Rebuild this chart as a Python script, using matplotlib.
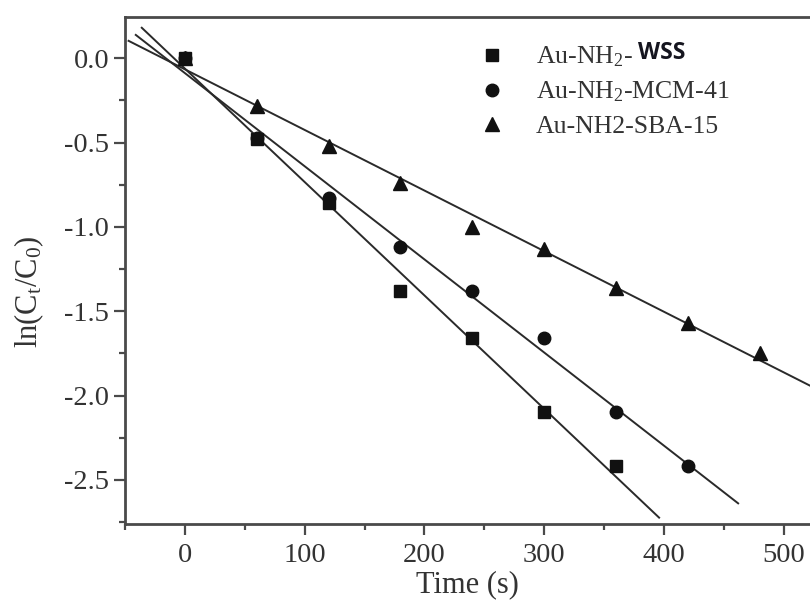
import numpy as np
import matplotlib
matplotlib.use("Agg")
import matplotlib.pyplot as plt
from matplotlib.lines import Line2D
from matplotlib.ticker import MultipleLocator

plt.rcParams['font.family'] = ['Liberation Serif', 'DejaVu Serif']
plt.rcParams['mathtext.fontset'] = 'custom'
plt.rcParams['mathtext.rm'] = 'Liberation Serif'
plt.rcParams['mathtext.it'] = 'Liberation Serif:italic'

# data
t_wss = [0, 60, 120, 180, 240, 300, 360]
y_wss = [0.0, -0.48, -0.86, -1.38, -1.66, -2.10, -2.42]
t_mcm = [0, 60, 120, 180, 240, 300, 360, 420]
y_mcm = [0.0, -0.47, -0.83, -1.12, -1.38, -1.66, -2.10, -2.42]
t_sba = [0, 60, 120, 180, 240, 300, 360, 420, 480]
y_sba = [0.0, -0.28, -0.52, -0.74, -1.00, -1.13, -1.36, -1.57, -1.75]
# extent of fitted lines (time)
fit_range_wss = (-36, 396)
fit_range_mcm = (-41, 462)
fit_range_sba = (-47, 530)

labels = ["Au-NH$_\\mathrm{2}$-", "Au-NH$_\\mathrm{2}$-MCM-41", "Au-NH2-SBA-15"]
xticks = [0, 100, 200, 300, 400, 500]
yticks = [0.0, -0.5, -1.0, -1.5, -2.0, -2.5]

W, H = 810, 603
fig = plt.figure(figsize=(W / 100, H / 100), dpi=100)
ax = fig.add_axes([125 / W, 79 / H, 1 - 125 / W, (524 - 16.7) / H])

spine_c = '#4a4a4a'
line_c = '#2a2a2a'
mk_c = '#111111'

series = [
    (t_wss, y_wss, fit_range_wss, 's', 8.5),
    (t_mcm, y_mcm, fit_range_mcm, 'o', 9),
    (t_sba, y_sba, fit_range_sba, '^', 9.5),
]
handles = []
for t, y, rng, m, ms in series:
    k, b = np.polyfit(t, y, 1)
    xx = np.array(rng, dtype=float)
    ax.plot(xx, k * xx + b, color=line_c, lw=1.4, zorder=2, clip_on=True)
    ax.plot(t, y, linestyle='none', marker=m, ms=ms, color=mk_c, zorder=3)
    handles.append(Line2D([], [], linestyle='none', marker=m, ms=ms, color=mk_c))

ax.set_xlim(-50, 522)
ax.set_ylim(-2.762, 0.247)
ax.set_xticks(xticks)
ax.set_yticks(yticks)
ax.set_yticklabels([f"{v:.1f}" for v in yticks])
ax.xaxis.set_minor_locator(MultipleLocator(50))
ax.yaxis.set_minor_locator(MultipleLocator(0.25))
ax.tick_params(which='both', direction='out', color=spine_c, width=1.6,
               labelsize=20.5, labelcolor='#333333', top=False, right=False)
ax.tick_params(which='major', length=8)
ax.tick_params(which='minor', length=4)
ax.tick_params(axis='x', which='major', pad=6)
for s in ['left', 'bottom', 'top']:
    ax.spines[s].set_color(spine_c)
    ax.spines[s].set_linewidth(2)
ax.spines['right'].set_visible(False)

ax.set_xlabel("Time (s)", fontsize=22, color='#333333', labelpad=1)
ax.set_ylabel("ln(C$_\\mathrm{t}$/C$_\\mathrm{0}$)", fontsize=22, color='#333333')
ax.yaxis.set_label_coords(-0.115, 0.457)

leg = ax.legend(handles, labels, loc='upper left', bbox_to_anchor=(0.502, 0.965),
                frameon=False, fontsize=18.5, handlelength=1.0, handletextpad=1.2,
                labelspacing=0.41, borderaxespad=0)
for txt in leg.get_texts():
    txt.set_color('#333333')

fig.canvas.draw()
bb = leg.get_texts()[0].get_window_extent()
fig.text((bb.x1 + 6) / W, (bb.y0 + 4) / H, "WSS", fontsize=16.5, fontweight='bold',
         family=['Open Sans', 'DejaVu Sans'], color='#15151f', ha='left', va='bottom')

fig.savefig("out.png", dpi=100)
